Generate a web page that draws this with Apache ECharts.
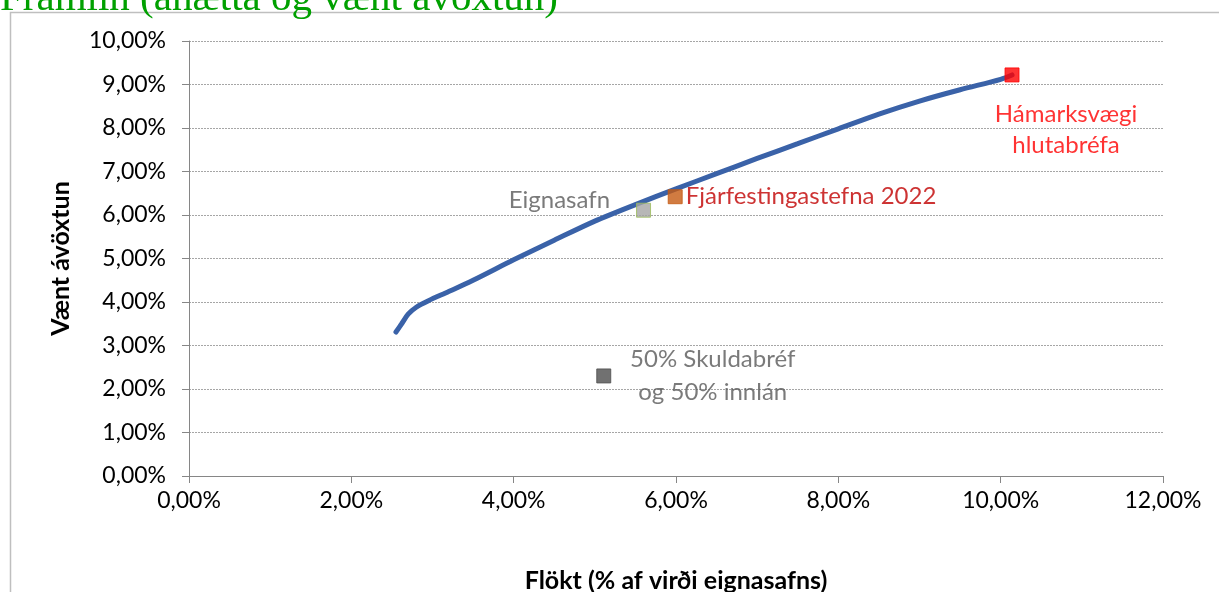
<!DOCTYPE html>
<html><head><meta charset="utf-8">
<script src="https://cdn.jsdelivr.net/npm/echarts@6/dist/echarts.min.js"></script>
<style>html,body{margin:0;padding:0;background:#fff}#c{width:1219px;height:592px}</style>
</head><body><div id="c"></div>
<script>
// Efficient frontier (x = Flökt %, y = Vænt ávöxtun %)
const frontierX = [2.55, 2.62, 2.70, 2.80, 2.95, 3.2, 3.5, 4.0, 4.5, 5.0, 5.5, 6.0, 6.5, 7.0, 7.5, 8.0, 8.5, 9.0, 9.5, 10.0, 10.14];
const frontierY = [3.31, 3.50, 3.72, 3.88, 4.03, 4.24, 4.50, 4.97, 5.42, 5.86, 6.24, 6.60, 6.95, 7.30, 7.64, 7.98, 8.32, 8.62, 8.88, 9.12, 9.22];
const pointNames = ["Eignasafn", "Fjárfestingastefna 2022", "Hámarksvægi\nhlutabréfa", "50% Skuldabréf\nog 50% innlán"];
const pointX = [5.60, 5.99, 10.14, 5.11];
const pointY = [6.11, 6.42, 9.22, 2.30];
const xTicks = [0, 2, 4, 6, 8, 10, 12];
const yTicks = [0, 1, 2, 3, 4, 5, 6, 7, 8, 9, 10];
const titleText = "Framlín (áhætta og vænt ávöxtun)";
const xName = "Flökt (% af virði eignasafns)";
const yName = "Vænt ávöxtun";

const FONT = "Lato, 'Open Sans', sans-serif";
const fmt = v => v.toFixed(2).replace('.', ',') + '%';

const pointStyles = [
  {color:'#A5A5A5', border:'#9BBB59', label:{position:'left', distance:26, offset:[0,-10], color:'#595959'}},
  {color:'#C55A11', border:'#C55A11', label:{position:'right', distance:3, offset:[0,0], color:'#C00000'}},
  {color:'#FF0000', border:'#FF0000', label:{position:'inside', offset:[54,55], color:'#FF0000', lineHeight:31}},
  {color:'#4D4D4D', border:'#4D4D4D', label:{position:'inside', offset:[109,0], color:'#595959', lineHeight:33}}
];

const series = [{
  type:'line', data: frontierX.map((x,i)=>[x, frontierY[i]]), smooth:0.3, showSymbol:false,
  lineStyle:{color:'#3A62A8', width:5, cap:'round'}, z:2, silent:true
}];
pointNames.forEach((n,i)=>{
  const s = pointStyles[i];
  series.push({
    type:'scatter', name:n, symbol:'rect', symbolSize:14, z:3,
    data:[[pointX[i], pointY[i]]],
    itemStyle:{color:s.color, borderColor:s.border, borderWidth:1},
    label:Object.assign({show:true, formatter:n, fontFamily:FONT, fontSize:24, align:'center'}, s.label,
      s.label.position==='left' ? {align:'right'} : s.label.position==='right' ? {align:'left'} : {})
  });
});

const chart = echarts.init(document.getElementById('c'), null, {renderer:'canvas'});
chart.setOption({
  animation:false,
  backgroundColor:'#fff',
  grid:{left:189, right:56, top:41, bottom:116, containLabel:false, outerBoundsMode:'none'},
  graphic:[
    {type:'rect', shape:{x:10.5, y:12.5, width:1400, height:800}, style:{fill:null, stroke:'#BFBFBF', lineWidth:1.5}, z:-1},
    {type:'text', left:0, top:-21, style:{text:titleText, font:"41px 'Liberation Serif', serif", fill:'#00A000'}}
  ],
  xAxis:{
    type:'value', min:0, max:12, interval:2,
    name:xName, nameLocation:'middle', nameGap:92,
    nameTextStyle:{fontFamily:FONT, fontWeight:'bold', fontSize:25, color:'#000'},
    axisLine:{show:true, lineStyle:{color:'#868686', width:1}},
    axisTick:{show:true, length:7, lineStyle:{color:'#868686'}},
    axisLabel:{formatter:fmt, fontFamily:FONT, fontSize:23, color:'#000', margin:13},
    splitLine:{show:false}
  },
  yAxis:{
    type:'value', min:0, max:10, interval:1,
    name:yName, nameLocation:'middle', nameGap:116,
    nameTextStyle:{fontFamily:FONT, fontWeight:'bold', fontSize:25, color:'#000'},
    axisLine:{show:true, lineStyle:{color:'#868686', width:1}},
    axisTick:{show:true, length:7, lineStyle:{color:'#868686'}},
    axisLabel:{formatter:fmt, fontFamily:FONT, fontSize:23, color:'#000', margin:23},
    splitLine:{show:true, lineStyle:{color:'#A6A6A6', type:[2,1], width:1}}
  },
  series:series
});
</script></body></html>
